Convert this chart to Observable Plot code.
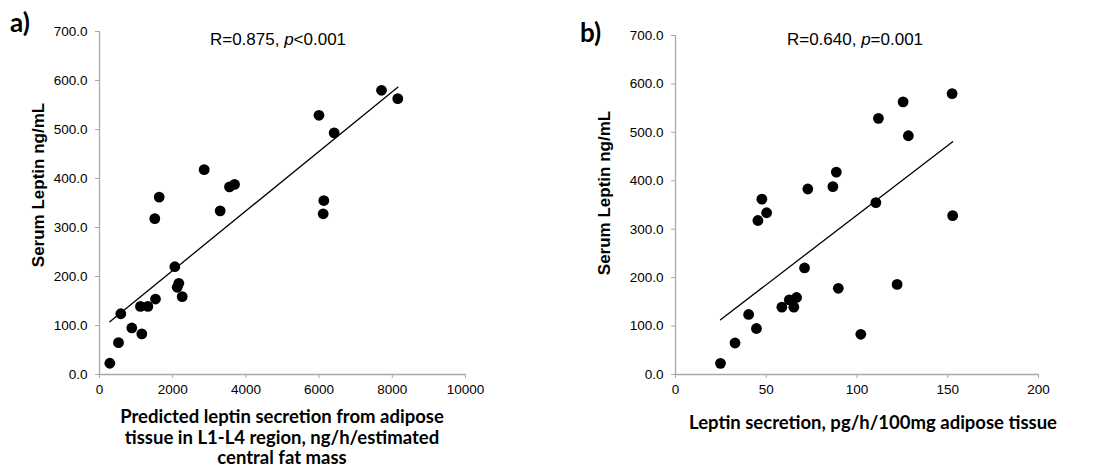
<!DOCTYPE html>
<html><head><meta charset="utf-8">
<script src="https://cdn.jsdelivr.net/npm/d3@7"></script>
<script src="https://cdn.jsdelivr.net/npm/@observablehq/plot@0.6"></script>
<style>
body{margin:0;background:#fff;}
#wrap{position:relative;width:1105px;height:472px;overflow:hidden;background:#fff;}
#wrap > svg{position:absolute;top:0;}
#overlay{position:absolute;left:0;top:0;pointer-events:none;}
</style></head><body><div id="wrap"></div>
<script>
// Serum leptin (ng/mL), one per subject
const serumLeptin = [580, 563, 529, 493, 418, 388, 383, 362, 355, 334, 328, 318, 220, 186, 178, 159, 154, 139, 139, 124, 95, 83, 65, 23];
// Panel a: predicted leptin secretion from adipose tissue in L1-L4 region
const predictedSecretion = [7705, 8150, 5997, 6412, 2860, 3689, 3552, 1631, 6129, 3297, 6111, 1511, 2058, 2167, 2123, 2259, 1530, 1120, 1321, 582, 883, 1156, 519, 282];
// Panel b: leptin secretion, pg/h/100mg adipose tissue
const leptinSecretion = [152.4, 125.4, 111.8, 128.3, 88.6, 86.7, 72.9, 47.6, 110.4, 50.2, 152.7, 45.4, 71.1, 122.1, 89.7, 66.7, 62.7, 58.6, 65.2, 40.3, 44.6, 102.1, 32.8, 24.8];

const yTicks = [0, 100, 200, 300, 400, 500, 600, 700];
const xTicksA = [0, 2000, 4000, 6000, 8000, 10000];
const xTicksB = [0, 50, 100, 150, 200];

const titleA = "R=0.875, ";
const titleAp = "<0.001";
const titleB = "R=0.640, ";
const titleBp = "=0.001";
const yLabel = "Serum Leptin ng/mL";
const xLabelA = ["Predicted leptin secretion from adipose", "tissue in L1-L4 region, ng/h/estimated", "central fat mass"];
const xLabelB = "Leptin secretion, pg/h/100mg adipose tissue";

const axisGray = "#a9a9a9";

function panel(xs, xDomain, xTicks, o) {
  const data = serumLeptin.map((y, i) => ({x: xs[i], y}));
  return Plot.plot({
    width: o.width, height: 472,
    marginLeft: o.ml, marginRight: o.mr, marginTop: o.mt, marginBottom: o.mb,
    style: {fontFamily: "'Liberation Sans', Arial, sans-serif", fontSize: "13.5px", color: "black", background: "transparent"},
    x: {domain: xDomain},
    y: {domain: [0, 700]},
    marks: [
      Plot.ruleY([0], {stroke: axisGray, strokeWidth: 1.3}),
      Plot.ruleX([0], {stroke: axisGray, strokeWidth: 1.3}),
      Plot.axisY({ticks: yTicks, tickFormat: d3.format(".1f"), tickSize: 4, tickPadding: 8, stroke: axisGray, fill: "black", label: null}),
      Plot.axisX({ticks: xTicks, tickFormat: d3.format("d"), tickSize: 4, tickPadding: 6, stroke: axisGray, fill: "black", label: null}),
      Plot.linearRegressionY(data, {x: "x", y: "y", ci: 0, stroke: "black", strokeWidth: 1.3}),
      Plot.dot(data, {x: "x", y: "y", r: 5.4, fill: "black", stroke: "none"})
    ]
  });
}

const wrap = document.getElementById("wrap");
const a = panel(predictedSecretion, [0, 10000], xTicksA, {width: 552, ml: 99, mr: 87, mt: 31, mb: 98});
a.style.left = "0px";
wrap.appendChild(a);
const b = panel(leptinSecretion, [0, 200], xTicksB, {width: 553, ml: 123, mr: 67, mt: 35, mb: 98});
b.style.left = "552px";
wrap.appendChild(b);

// overlay text
const ns = "http://www.w3.org/2000/svg";
const ov = document.createElementNS(ns, "svg");
ov.setAttribute("id", "overlay");
ov.setAttribute("width", 1105); ov.setAttribute("height", 472);
wrap.appendChild(ov);
function txt(str, x, y, style, anchor = "middle", transform = null) {
  const t = document.createElementNS(ns, "text");
  t.setAttribute("x", x); t.setAttribute("y", y);
  t.setAttribute("text-anchor", anchor);
  if (transform) t.setAttribute("transform", transform);
  t.setAttribute("style", style);
  t.textContent = str;
  ov.appendChild(t);
  return t;
}
const arial = "font-family:'Liberation Sans',Arial,sans-serif;";
const calib = "font-family:Lato,'Open Sans',sans-serif;font-weight:bold;";
txt("a)", 10, 32, calib + "font-size:26px;", "start");
txt("b)", 580, 42, calib + "font-size:26px;", "start");
function title(main, p, rest, x, y) {
  const t = txt(main, x, y, arial + "font-size:17px;");
  const s = document.createElementNS(ns, "tspan");
  s.setAttribute("font-style", "italic"); s.textContent = p; t.appendChild(s);
  const r = document.createElementNS(ns, "tspan");
  r.textContent = rest; t.appendChild(r);
}
title(titleA, "p", titleAp, 278, 45);
title(titleB, "p", titleBp, 855, 45);
txt(yLabel, 0, 0, arial + "font-size:17px;font-weight:bold;", "middle", "translate(44,185) rotate(-90)");
txt(yLabel, 0, 0, arial + "font-size:17px;font-weight:bold;", "middle", "translate(610,193) rotate(-90)");
xLabelA.forEach((l, i) => txt(l, 282, 423 + i * 20.5, calib + "font-size:18.5px;"));
txt(xLabelB, 873, 429, calib + "font-size:18.5px;");
</script></body></html>
